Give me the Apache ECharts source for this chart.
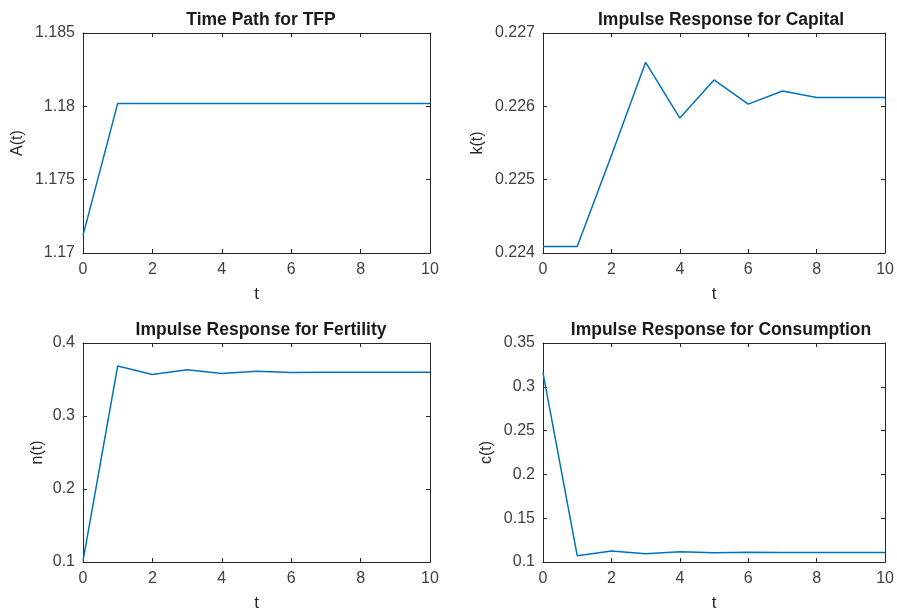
<!DOCTYPE html>
<html>
<head>
<meta charset="utf-8">
<script src="https://cdn.jsdelivr.net/npm/echarts@6/dist/echarts.min.js"></script>
<style>
html, body { margin: 0; padding: 0; background: #fff; }
#chart { width: 897px; height: 613px; }
</style>
</head>
<body>
<div id="chart"></div>
<script>
let periods = [0, 1, 2, 3, 4, 5, 6, 7, 8, 9, 10];
let tfp = [1.1712, 1.1802, 1.1802, 1.1802, 1.1802, 1.1802, 1.1802, 1.1802, 1.1802, 1.1802, 1.1802];
let capital = [0.22409, 0.22409, 0.22533, 0.22660, 0.22584, 0.22636, 0.22603, 0.22621, 0.22612, 0.22612, 0.22612];
let fertility = [0.1015, 0.3686, 0.3568, 0.3632, 0.3582, 0.3614, 0.3595, 0.3601, 0.3600, 0.3600, 0.3600];
let consumption = [0.316, 0.1072, 0.1125, 0.1094, 0.1117, 0.1106, 0.1110, 0.1109, 0.1109, 0.1109, 0.1109];

let panels = [
    { title: 'Time Path for TFP', ylabel: 'A(t)', data: tfp, min: 1.17, max: 1.185, interval: 0.005, left: 83, top: 33, nameGap: 57 },
    { title: 'Impulse Response for Capital', ylabel: 'k(t)', data: capital, min: 0.224, max: 0.227, interval: 0.001, left: 543, top: 33, nameGap: 57 },
    { title: 'Impulse Response for Fertility', ylabel: 'n(t)', data: fertility, min: 0.1, max: 0.4, interval: 0.1, left: 83, top: 343, nameGap: 37 },
    { title: 'Impulse Response for Consumption', ylabel: 'c(t)', data: consumption, min: 0.1, max: 0.35, interval: 0.05, left: 543, top: 343, nameGap: 48 }
];

let axisColor = '#262626';
let font = 'Liberation Sans, Arial, Helvetica, sans-serif';

function fmt(v) {
    return String(Number(v.toFixed(4)));
}

let option = {
    backgroundColor: '#fff',
    animation: false,
    title: [],
    grid: [],
    xAxis: [],
    yAxis: [],
    series: []
};

panels.forEach(function (p, i) {
    option.grid.push({ left: p.left, top: p.top, width: 347, height: 220, containLabel: false });
    option.title.push({
        text: p.title,
        left: p.left + 173,
        top: p.top - 27,
        textAlign: 'center',
        textStyle: { fontFamily: font, fontSize: 17.5, fontWeight: 'bold', color: '#1a1a1a' }
    });
    let tick = { show: true, inside: true, length: 4, lineStyle: { color: axisColor } };
    let line = { show: true, onZero: false, lineStyle: { color: axisColor, width: 1 } };
    // bottom + top x axes
    option.xAxis.push({
        type: 'value', gridIndex: i, min: 0, max: 10, interval: 2, position: 'bottom',
        name: 't', nameLocation: 'middle', nameGap: 33,
        nameTextStyle: { fontFamily: font, fontSize: 17, color: axisColor },
        axisLine: line, axisTick: tick, splitLine: { show: false },
        axisLabel: { fontFamily: font, fontSize: 16, color: '#404040', margin: 9, formatter: fmt }
    });
    option.xAxis.push({
        type: 'value', gridIndex: i, min: 0, max: 10, interval: 2, position: 'top',
        axisLine: line, axisTick: tick, splitLine: { show: false }, axisLabel: { show: false }
    });
    // left + right y axes
    option.yAxis.push({
        type: 'value', gridIndex: i, min: p.min, max: p.max, interval: p.interval, position: 'left',
        name: p.ylabel, nameLocation: 'middle', nameGap: p.nameGap, nameRotate: 90,
        nameTextStyle: { fontFamily: font, fontSize: 16, color: axisColor },
        axisLine: line, axisTick: tick, splitLine: { show: false },
        axisLabel: { fontFamily: font, fontSize: 16, color: '#404040', margin: 8, formatter: fmt }
    });
    option.yAxis.push({
        type: 'value', gridIndex: i, min: p.min, max: p.max, interval: p.interval, position: 'right',
        axisLine: line, axisTick: tick, splitLine: { show: false }, axisLabel: { show: false }
    });
    option.series.push({
        type: 'line',
        xAxisIndex: i * 2,
        yAxisIndex: i * 2,
        data: periods.map(function (t, k) { return [t, p.data[k]]; }),
        showSymbol: false,
        lineStyle: { color: '#0072BD', width: 1.5 },
        clip: true
    });
});

let chart = echarts.init(document.getElementById('chart'));
chart.setOption(option);
</script>
</body>
</html>
